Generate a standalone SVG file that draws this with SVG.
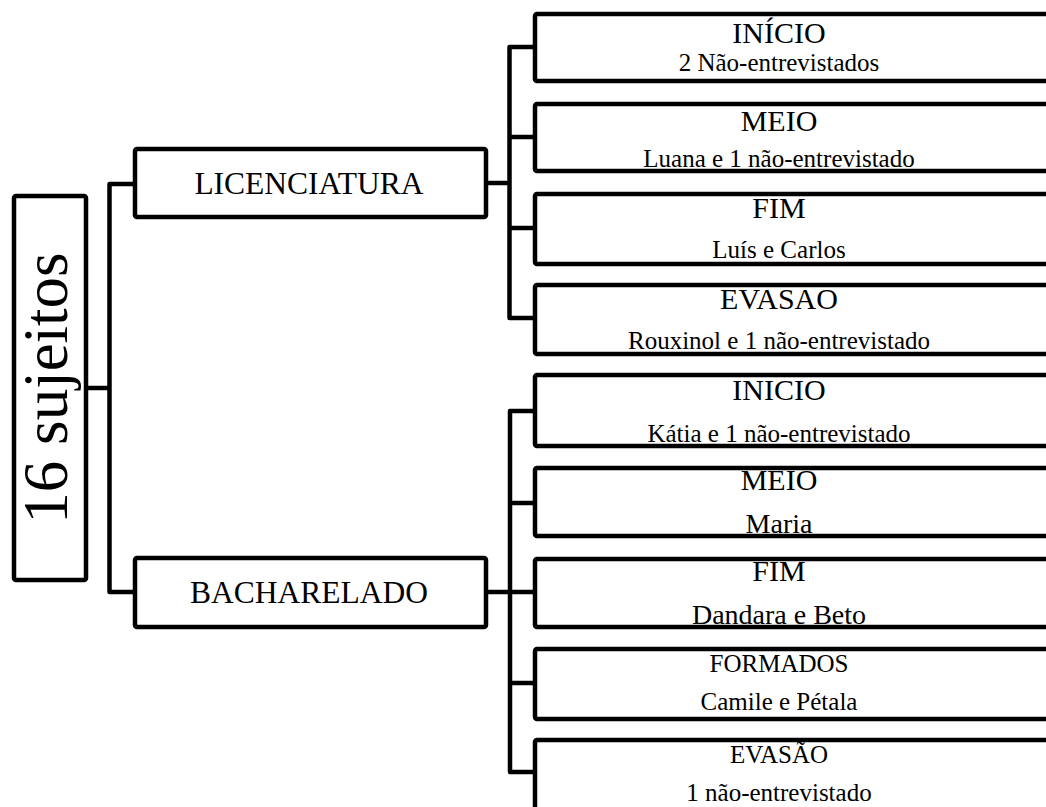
<svg xmlns="http://www.w3.org/2000/svg" width="1046" height="807" viewBox="0 0 1046 807">
<style>
.box{fill:none;stroke:#000;stroke-width:4.5;stroke-linejoin:round}
.wire{fill:none;stroke:#000;stroke-width:4.5;stroke-linejoin:round}
text{font-family:"Liberation Serif","Times New Roman",serif;fill:#000;text-anchor:middle}
.t31{font-size:31.5px}
.t30{font-size:30px}
.t25{font-size:25px}
.t28{font-size:28px}
</style>
<rect width="1046" height="807" fill="#fff"/>
<g id="connectors">
<path class="wire" d="M88,388 H109.5"/>
<path class="wire" d="M135,184 H109.5 V592 H135"/>
<path class="wire" d="M487,183 H509.5"/>
<path class="wire" d="M535,47 H509.5 V318 H535"/>
<path class="wire" d="M509.5,137 H535 M509.5,228 H535"/>
<path class="wire" d="M488,592 H510"/>
<path class="wire" d="M535,411 H510 V772 H535"/>
<path class="wire" d="M510,503 H535 M510,592 H535 M510,683 H535"/>
</g>
<g id="root">
<rect class="box" x="14" y="196" width="72" height="384" rx="2"/>
<text transform="translate(67,388) rotate(-90)" style="font-size:63px">16 sujeitos</text>
</g>
<g id="licenciatura">
<rect class="box" x="135" y="149" width="351" height="68" rx="2"/>
<text class="t31" x="309" y="194">LICENCIATURA</text>
</g>
<g id="bacharelado">
<rect class="box" x="135" y="558" width="351" height="69" rx="2"/>
<text class="t31" x="309" y="603">BACHARELADO</text>
</g>
<g id="lic-inicio">
<rect class="box" x="535" y="14" width="600" height="67" rx="2"/>
<text class="t30" x="779" y="43">INÍCIO</text>
<text class="t25" x="779" y="71">2 Não-entrevistados</text>
</g>
<g id="lic-meio">
<rect class="box" x="535" y="104" width="600" height="67" rx="2"/>
<text class="t30" x="779" y="131">MEIO</text>
<text class="t25" x="779" y="167">Luana e 1 não-entrevistado</text>
</g>
<g id="lic-fim">
<rect class="box" x="535" y="194" width="600" height="70" rx="2"/>
<text class="t30" x="779" y="218">FIM</text>
<text class="t25" x="779" y="258">Luís e Carlos</text>
</g>
<g id="lic-evasao">
<rect class="box" x="535" y="285" width="600" height="69" rx="2"/>
<text class="t30" x="779" y="309">EVASAO</text>
<text class="t25" x="779" y="349">Rouxinol e 1 não-entrevistado</text>
</g>
<g id="bach-inicio">
<text class="t30" x="779" y="400">INICIO</text>
<text class="t25" x="779" y="442">Kátia e 1 não-entrevistado</text>
<rect class="box" x="535" y="375" width="600" height="71" rx="2"/>
</g>
<g id="bach-meio">
<text class="t30" x="779" y="490">MEIO</text>
<text class="t28" x="779" y="533">Maria</text>
<rect class="box" x="535" y="468" width="600" height="68" rx="2"/>
</g>
<g id="bach-fim">
<text class="t30" x="779" y="581">FIM</text>
<text class="t28" x="779" y="624">Dandara e Beto</text>
<rect class="box" x="535" y="559" width="600" height="68" rx="2"/>
</g>
<g id="bach-formados">
<rect class="box" x="535" y="649" width="600" height="70" rx="2"/>
<text class="t25" x="779" y="672">FORMADOS</text>
<text class="t25" x="779" y="710">Camile e Pétala</text>
</g>
<g id="bach-evasao">
<rect class="box" x="535" y="740" width="600" height="100" rx="2"/>
<text class="t25" x="779" y="763">EVASÃO</text>
<text class="t25" x="779" y="801">1 não-entrevistado</text>
</g>
</svg>
